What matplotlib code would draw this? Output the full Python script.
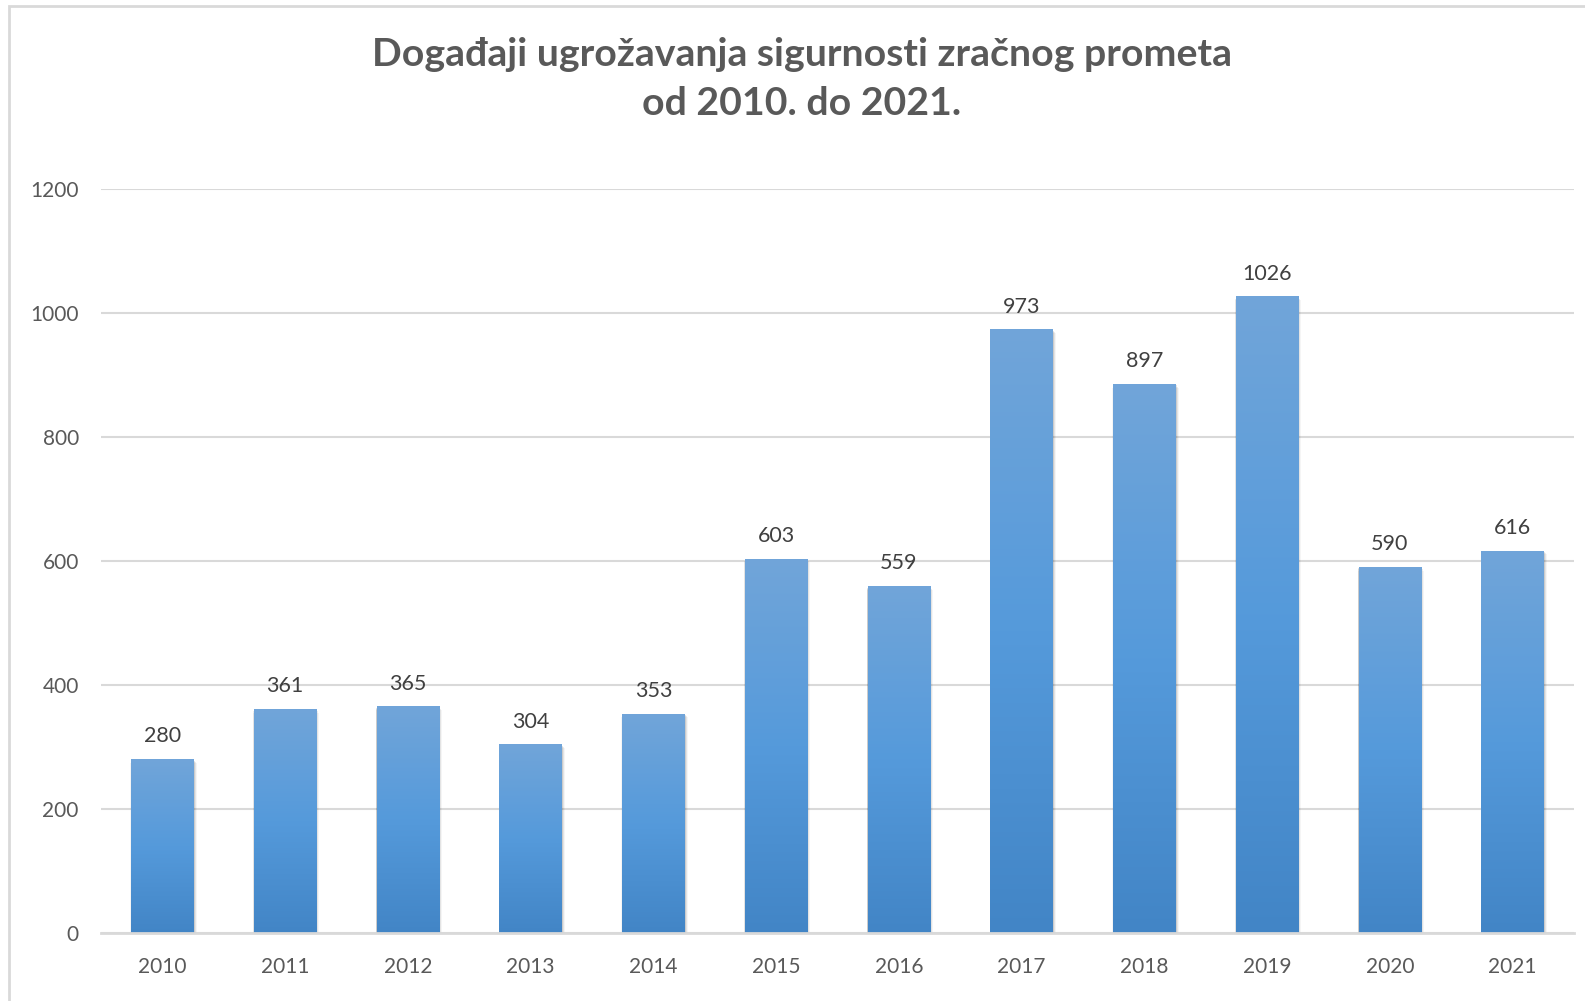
import matplotlib
matplotlib.use("Agg")
import matplotlib.pyplot as plt
import numpy as np
from matplotlib.patches import Rectangle
from matplotlib.colors import LinearSegmentedColormap

years = ["2010", "2011", "2012", "2013", "2014", "2015", "2016", "2017", "2018", "2019", "2020", "2021"]
bar_heights = [280, 361, 365, 304, 353, 603, 559, 973, 885, 1026, 590, 616]
label_texts = ["280", "361", "365", "304", "353", "603", "559", "973", "897", "1026", "590", "616"]
y_ticks = [0, 200, 400, 600, 800, 1000, 1200]
title = "Događaji ugrožavanja sigurnosti zračnog prometa\nod 2010. do 2021."

plt.rcParams['font.family'] = ['Lato', 'DejaVu Sans']

fig = plt.figure(figsize=(15.85, 10.01), dpi=100)
fig.patch.set_facecolor("white")

# chart frame
frame = Rectangle((9 / 1585, -0.1), 1.2, 1 - 6 / 1001 + 0.1, transform=fig.transFigure,
                  fill=False, edgecolor="#D9D9D9", linewidth=2.0)
fig.add_artist(frame)

ax = fig.add_axes([101 / 1585, 1 - 933 / 1001, (1574 - 101) / 1585, (933 - 189) / 1001])
ax.set_xlim(-0.5, len(years) - 0.5)
ax.set_ylim(0, 1200)

cmap = LinearSegmentedColormap.from_list("g", ["#4285C6", "#559ADB", "#71A5D9"])
grad = np.linspace(0, 1, 256).reshape(-1, 1)

x = np.arange(len(years))
width = 0.51
bars = ax.bar(x, bar_heights, width=width, color="none", zorder=3)
for b in bars:
    x0, w, h = b.get_x(), b.get_width(), b.get_height()
    # soft shadow
    for i, a in enumerate([0.10, 0.07, 0.04]):
        d = 0.006 * (i + 1)
        sh = Rectangle((x0 - d * 0.3, -2), w + d * 1.6, h + 2 - d * 300, facecolor="#000000",
                       alpha=a, edgecolor="none", zorder=2)
        ax.add_patch(sh)
    ax.imshow(grad, extent=(x0, x0 + w, 0, h), origin="lower", cmap=cmap,
              aspect="auto", zorder=3, interpolation="bicubic")

ax.set_xlim(-0.5, len(years) - 0.5)
ax.set_ylim(0, 1200)

for xi, h, t in zip(x, bar_heights, label_texts):
    ax.annotate(t, (xi, h), xytext=(0, 13), textcoords="offset pixels",
                ha="center", va="bottom", fontsize=15.5, color="#404040", zorder=5)

ax.set_yticks(y_ticks)
ax.set_yticklabels([str(v) for v in y_ticks])
ax.set_xticks(x)
ax.set_xticklabels(years)
ax.tick_params(axis="both", length=0, labelsize=15, labelcolor="#595959")
ax.tick_params(axis="y", pad=16)
ax.tick_params(axis="x", pad=17)
ax.grid(axis="y", color="#D9D9D9", linewidth=1.5, zorder=0)
ax.set_axisbelow(True)
for s in ["top", "right", "left"]:
    ax.spines[s].set_visible(False)
ax.spines["bottom"].set_color("#D9D9D9")
ax.spines["bottom"].set_linewidth(2)
ax.spines["bottom"].set_zorder(4)

fig.text(802 / 1585, 1 - 79 / 1001, title, ha="center", va="center", fontsize=28.3,
         fontweight="bold", color="#595959", linespacing=1.5)

fig.savefig("out.png", dpi=100, facecolor="white")
